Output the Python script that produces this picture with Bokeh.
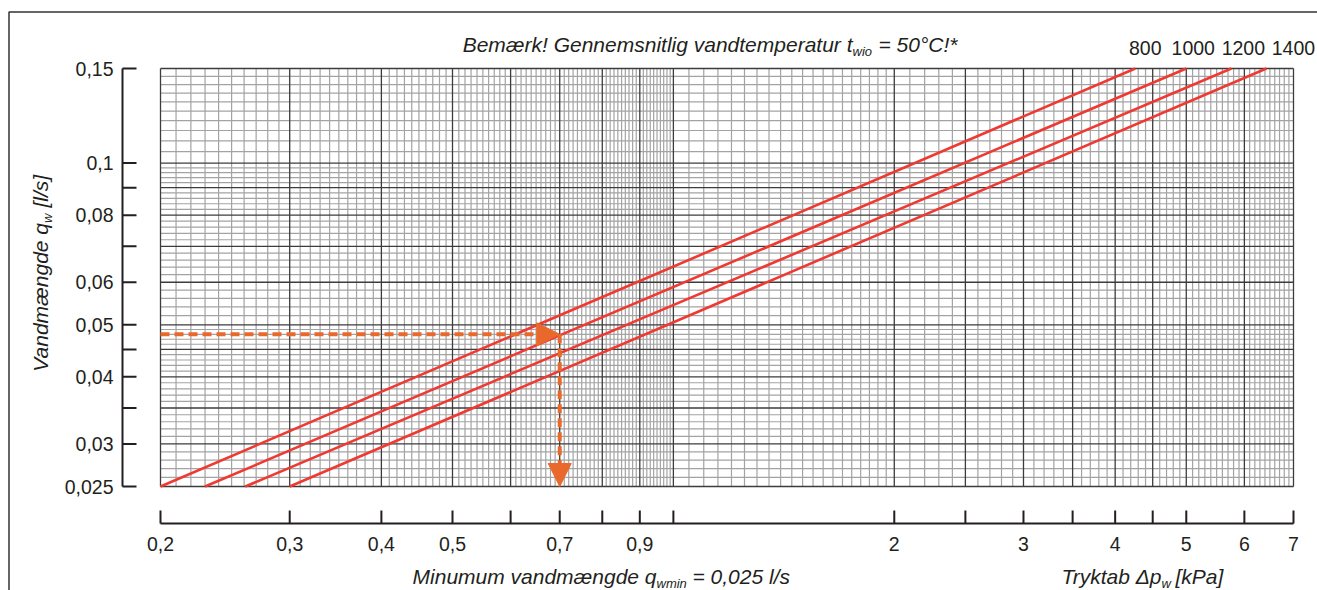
import math

from bokeh.core.properties import value
from bokeh.embed import file_html
from bokeh.models import Arrow, BoxAnnotation, Label, NormalHead, Range1d
from bokeh.plotting import figure
from bokeh.resources import INLINE

# ---------------------------------------------------------------- data
DP_MIN, DP_MAX = 0.2, 7.0        # pressure drop span [kPa]
Q_MIN, Q_MAX = 0.025, 0.15       # water flow span [l/s]

PRESSURE_TICKS = [0.2, 0.3, 0.4, 0.5, 0.6, 0.7, 0.8, 0.9, 1.0,
                  2.0, 2.5, 3.0, 3.5, 4.0, 4.5, 5.0, 6.0, 7.0]
PRESSURE_TICK_LABELS = ["0,2", "0,3", "0,4", "0,5", "", "0,7", "", "0,9", "",
                        "2", "", "3", "", "4", "", "5", "6", "7"]

FLOW_TICKS = [0.025, 0.03, 0.035, 0.04, 0.045, 0.05,
              0.06, 0.07, 0.08, 0.09, 0.1, 0.15]
FLOW_TICK_LABELS = ["0,025", "0,03", "", "0,04", "", "0,05",
                    "0,06", "", "0,08", "", "0,1", "0,15"]

# unit sizes: pressure drop read at the lowest and at the highest flow
UNIT_NAMES = ["800", "1000", "1200", "1400"]
UNIT_DP_AT_QMIN = [0.200, 0.230, 0.261, 0.300]
UNIT_DP_AT_QMAX = [4.26, 5.00, 5.76, 6.43]

# worked example: flow -> pressure drop
EXAMPLE_Q = 0.048
EXAMPLE_DP = 0.70

# ---------------------------------------------------------------- layout
W, H = 1317, 590
GRID_L, GRID_R, GRID_T, GRID_B = 160, 1293, 68, 486   # chart paper box (px)
AXIS_X, AXIS_Y = 122, 523                              # detached axis lines (px)
Y_TICK_LEN, X_TICK_LEN = 14, 13

INK = "#231f20"
RED = "#ee3a33"
ORANGE = "#e8692b"
MAJOR_GRID = "#3c3c3c"
MINOR_GRID = "#a3a3a3"
FONT = "Liberation Sans"
TICK_SIZE = "19.5px"
CAPTION = 21      # caption font size, px
SUB = 13          # subscript font size, px


def steps(a, b, s):
    n = int(round((b - a) / s))
    return [round(a + i * s, 6) for i in range(1, n)]


# grid rulings of the log paper
x_minor = steps(0.2, 1.0, 0.01) + steps(1.0, 2.0, 0.05) + steps(2.0, 7.0, 0.1)
x_minor = [v for v in x_minor if all(abs(v - t) > 1e-9 for t in PRESSURE_TICKS)]
y_minor = steps(0.025, 0.05, 0.001) + steps(0.05, 0.1, 0.002) + steps(0.1, 0.15, 0.005)
y_minor = [v for v in y_minor if all(abs(v - t) > 1e-9 for t in FLOW_TICKS)]

# the plotting frame fills the page; ranges are stretched so the paper box
# lands at its place and the axes can hang off it
dec_x = (GRID_R - GRID_L) / math.log10(DP_MAX / DP_MIN)
dec_y = (GRID_B - GRID_T) / math.log10(Q_MAX / Q_MIN)
x_lo = DP_MIN / 10 ** (GRID_L / dec_x)
x_hi = DP_MAX * 10 ** ((W - GRID_R) / dec_x)
y_lo = Q_MIN / 10 ** ((H - GRID_B) / dec_y)
y_hi = Q_MAX * 10 ** (GRID_T / dec_y)


def data_x(px):
    return DP_MIN * 10 ** ((px - GRID_L) / dec_x)


def data_y(py):
    return Q_MIN * 10 ** ((GRID_B - py) / dec_y)


p = figure(width=W, height=H, x_axis_type="log", y_axis_type="log",
           x_range=Range1d(x_lo, x_hi), y_range=Range1d(y_lo, y_hi),
           x_axis_location=None, y_axis_location=None,
           min_border=0, toolbar_location=None, output_backend="svg",
           outline_line_color=None, background_fill_color="white",
           border_fill_color="white")
p.title.visible = False
p.xgrid.visible = False
p.ygrid.visible = False

# ---------------------------------------------------------------- paper grid
p.segment(x0=x_minor, y0=Q_MIN, x1=x_minor, y1=Q_MAX,
          line_color=MINOR_GRID, line_width=1.2)
p.segment(x0=DP_MIN, y0=y_minor, x1=DP_MAX, y1=y_minor,
          line_color=MINOR_GRID, line_width=1.2)
p.segment(x0=PRESSURE_TICKS, y0=Q_MIN, x1=PRESSURE_TICKS, y1=Q_MAX,
          line_color=MAJOR_GRID, line_width=1.3)
p.segment(x0=DP_MIN, y0=FLOW_TICKS, x1=DP_MAX, y1=FLOW_TICKS,
          line_color=MAJOR_GRID, line_width=1.3)

# ---------------------------------------------------------------- axes
# flow axis (left, ticks pointing towards the paper)
p.segment(x0=data_x(AXIS_X), y0=Q_MIN, x1=data_x(AXIS_X), y1=Q_MAX,
          line_color=INK, line_width=2)
p.segment(x0=data_x(AXIS_X), y0=FLOW_TICKS, x1=data_x(AXIS_X + Y_TICK_LEN), y1=FLOW_TICKS,
          line_color=INK, line_width=2)
p.text(x=data_x(AXIS_X - 9), y=FLOW_TICKS, text=FLOW_TICK_LABELS,
       text_font=value(FONT), text_font_size=value(TICK_SIZE), text_color=INK,
       text_align="right", text_baseline="middle")

# pressure drop axis (below, ticks pointing up)
p.segment(x0=DP_MIN, y0=data_y(AXIS_Y), x1=DP_MAX, y1=data_y(AXIS_Y),
          line_color=INK, line_width=2)
p.segment(x0=PRESSURE_TICKS, y0=data_y(AXIS_Y), x1=PRESSURE_TICKS, y1=data_y(AXIS_Y - X_TICK_LEN),
          line_color=INK, line_width=2)
p.text(x=PRESSURE_TICKS, y=data_y(AXIS_Y + 20), text=PRESSURE_TICK_LABELS,
       text_font=value(FONT), text_font_size=value(TICK_SIZE), text_color=INK,
       text_align="center", text_baseline="middle")

# ---------------------------------------------------------------- unit lines
p.segment(x0=UNIT_DP_AT_QMIN, y0=Q_MIN, x1=UNIT_DP_AT_QMAX, y1=Q_MAX,
          line_color=RED, line_width=2.6)

# ---------------------------------------------------------------- example arrows
for x0, y0, x1, y1 in ((DP_MIN, EXAMPLE_Q, EXAMPLE_DP, EXAMPLE_Q),
                       (EXAMPLE_DP, EXAMPLE_Q, EXAMPLE_DP, Q_MIN)):
    p.add_layout(Arrow(x_start=x0, y_start=y0, x_end=x1, y_end=y1,
                       line_color=ORANGE, line_width=4, line_dash="9 5",
                       end=NormalHead(size=23, fill_color=ORANGE, fill_alpha=1.0,
                                      line_color=ORANGE, line_width=1)))


# ---------------------------------------------------------------- texts
def put(text, px, py, size, align="left", italic=True, angle=0.0):
    # px, py: anchor on the page, measured from its top-left corner
    p.add_layout(Label(x=px, y=H - py, x_units="screen", y_units="screen",
                       text=text, text_font=FONT, text_font_size=f"{size}px",
                       text_font_style="italic" if italic else "normal",
                       text_color=INK, text_align=align, text_baseline="middle",
                       angle=angle))


# title with subscript
put("Bemærk! Gennemsnitlig vandtemperatur t", 852, 44, CAPTION, align="right")
put("wio", 852, 51, SUB)
put("= 50°C!*", 878, 44, CAPTION)

# x-axis captions
put("Minumum vandmængde q", 656, 576, CAPTION, align="right")
put("wmin", 656, 583, SUB)
put("= 0,025 l/s", 692, 576, CAPTION)

put("Tryktab Δp", 1161, 576, CAPTION, align="right")
put("w", 1161, 583, SUB)
put("[kPa]", 1175, 576, CAPTION)

# y-axis caption, reading upwards
put("Vandmængde q", 40, 222.5, CAPTION, align="right", angle=math.pi / 2)
put("w", 47, 222.5, SUB, angle=math.pi / 2)
put("[l/s]", 40, 207, CAPTION, angle=math.pi / 2)

# unit names over the line ends
name_nudge_px = [10, 7, 12, 27]
for name, dp, nudge in zip(UNIT_NAMES, UNIT_DP_AT_QMAX, name_nudge_px):
    p.add_layout(Label(x=dp, y=H - 47, x_units="data", y_units="screen",
                       x_offset=nudge, text=name, text_font=FONT,
                       text_font_size=TICK_SIZE, text_color=INK,
                       text_align="center", text_baseline="middle"))

# page frame (runs off the right and bottom edges), kept on pixel centres
p.add_layout(BoxAnnotation(left=8.5, right=W + 40, top=H - 11.5, bottom=-40,
                           left_units="screen", right_units="screen",
                           top_units="screen", bottom_units="screen",
                           fill_color=None, fill_alpha=0.0,
                           line_color="#333333", line_alpha=1.0, line_width=1.5))

open("out.html", "w").write(file_html(p, INLINE))
